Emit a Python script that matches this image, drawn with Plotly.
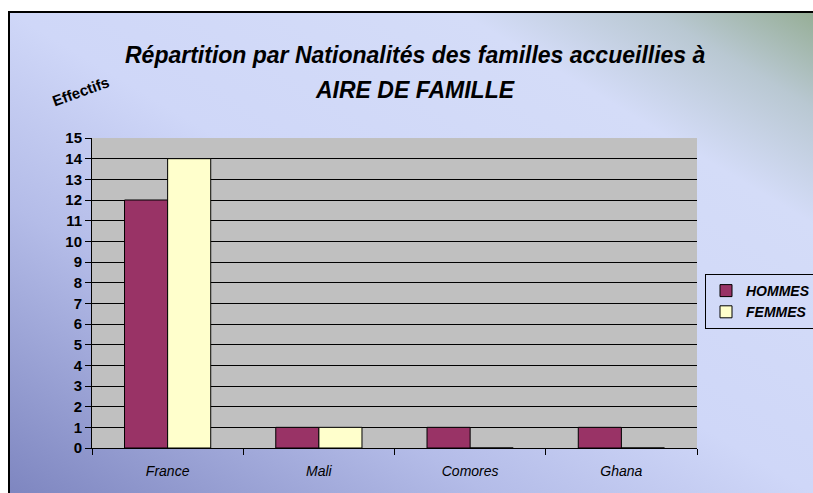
import base64

import plotly.graph_objects as go

# data
nationalites = ["France", "Mali", "Comores", "Ghana"]
hommes = [12, 1, 1, 1]
femmes = [14, 1, 0, 0]
y_ticks = list(range(0, 16))

COL_HOMMES = "#993366"
COL_FEMMES = "#FFFFCC"
NARROW = "Liberation Sans Narrow, Arial Narrow, Liberation Sans, Arial, sans-serif"
SANS = "Liberation Sans, Arial, sans-serif"

# canvas and plot area in pixels (x 92..697, y 138..448)
W, H = 813, 493
X0, X1, Y0, Y1 = 92, 697, 138, 448
PW, PH = X1 - X0, Y1 - Y0


def px_x(px):
    return (px - X0) / PW


def px_y(py):
    return (Y1 - py) / PH


# diagonal gradient background, as an inline svg image
svg = """<svg xmlns='http://www.w3.org/2000/svg' width='804' height='481' preserveAspectRatio='none'>
<defs><linearGradient id='g' x1='0' y1='1' x2='1' y2='0'>
<stop offset='0' stop-color='#7E86C0'/>
<stop offset='0.3' stop-color='#B4BCE8'/>
<stop offset='0.5' stop-color='#CFD7F8'/>
<stop offset='0.78' stop-color='#D4DCF8'/>
<stop offset='0.9' stop-color='#B9C8D2'/>
<stop offset='1' stop-color='#96AE96'/>
</linearGradient></defs>
<rect width='804' height='481' fill='url(#g)'/></svg>"""
bg_src = "data:image/svg+xml;base64," + base64.b64encode(svg.encode()).decode()

title_font = dict(family=NARROW, size=23, color="black", weight="bold", style="italic")

fig = go.Figure()
fig.add_bar(
    x=nationalites, y=hommes, name="HOMMES",
    marker=dict(color=COL_HOMMES, line=dict(color="black", width=1)),
)
fig.add_bar(
    x=nationalites, y=femmes, name="FEMMES",
    marker=dict(color=COL_FEMMES, line=dict(color="black", width=1)),
)

fig.update_layout(
    width=W, height=H,
    margin=dict(l=X0, r=W - X1, t=Y0, b=H - Y1, autoexpand=False),
    paper_bgcolor="white",
    plot_bgcolor="rgba(0,0,0,0)",
    barmode="group",
    bargap=0.43,
    bargroupgap=0,
    legend=dict(
        x=px_x(705), y=px_y(274), xanchor="left", yanchor="top",
        bgcolor="rgba(0,0,0,0)", bordercolor="black", borderwidth=1,
        font=dict(family=SANS, size=14, color="black", weight="bold", style="italic"),
        itemwidth=30, tracegroupgap=4,
    ),
    xaxis=dict(
        showline=True, linecolor="black", linewidth=1,
        ticks="outside", tickson="boundaries", ticklen=6, tickcolor="black",
        tickfont=dict(family=SANS, size=14, color="black", style="italic"),
        ticklabelstandoff=10,
        showgrid=False,
    ),
    yaxis=dict(
        range=[0, 15], tickvals=y_ticks,
        showline=True, linecolor="black", linewidth=1,
        ticks="outside", ticklen=6, tickcolor="black",
        tickfont=dict(family=SANS, size=15, color="black", weight="bold"),
        showgrid=True, gridcolor="black", gridwidth=1,
        zeroline=False,
    ),
    images=[dict(
        source=bg_src, xref="paper", yref="paper",
        x=px_x(9), y=px_y(12), sizex=(W - 9) / PW, sizey=(H - 12) / PH,
        xanchor="left", yanchor="top", sizing="stretch", layer="below",
    )],
    shapes=[
        # grey plot area, drawn over the gradient image
        dict(type="rect", xref="paper", yref="paper", x0=0, y0=0, x1=1, y1=1,
             fillcolor="#C0C0C0", line=dict(width=0), layer="below"),
        # chart frame
        dict(type="rect", xref="paper", yref="paper",
             x0=px_x(9), y0=px_y(H + 20), x1=px_x(W + 20), y1=px_y(12),
             line=dict(color="black", width=2), fillcolor="rgba(0,0,0,0)"),
    ],
    annotations=[
        dict(text="Répartition par Nationalités des familles accueillies à",
             xref="paper", yref="paper", x=px_x(415), y=px_y(55),
             xanchor="center", yanchor="middle", showarrow=False, font=title_font),
        dict(text="AIRE DE FAMILLE",
             xref="paper", yref="paper", x=px_x(415), y=px_y(90),
             xanchor="center", yanchor="middle", showarrow=False, font=title_font),
        dict(text="Effectifs", xref="paper", yref="paper",
             x=px_x(80), y=px_y(91), xanchor="center", yanchor="middle",
             showarrow=False, textangle=-20,
             font=dict(family=SANS, size=15, color="black", weight="bold")),
    ],
)

# no page margin, so the figure sits at the window's top-left corner
fig.write_html(
    "out.html",
    config={"displayModeBar": False},
    post_script="document.body.style.margin='0';document.body.style.overflow='hidden';",
)
